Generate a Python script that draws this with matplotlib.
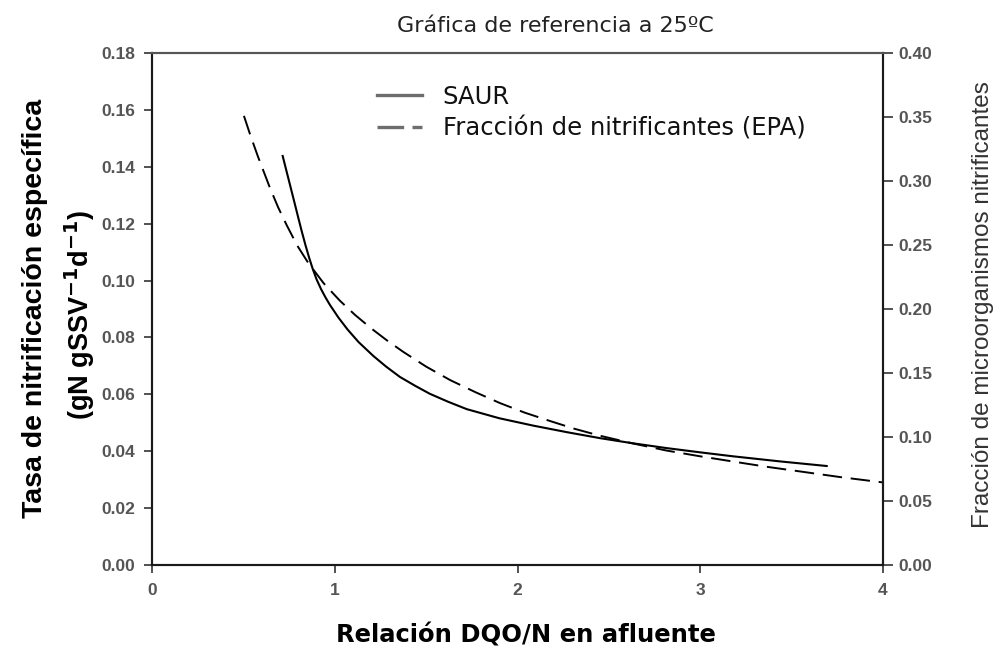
import matplotlib
matplotlib.use("Agg")
import matplotlib.pyplot as plt

# SAUR curve (left axis: specific nitrification rate)
saur_x = [0.715, 0.745, 0.773, 0.800, 0.819, 0.840, 0.860, 0.880, 0.900, 0.925, 0.950, 0.974,
          1.020, 1.070, 1.130, 1.211, 1.280, 1.357, 1.440, 1.520, 1.620, 1.722, 1.900, 2.086,
          2.270, 2.451, 2.630, 2.816, 3.000, 3.181, 3.440, 3.692]
saur_y = [0.1438, 0.1362, 0.1291, 0.1222, 0.1174, 0.1124, 0.1080, 0.1040, 0.1005, 0.0970,
          0.0940, 0.0914, 0.0870, 0.0828, 0.0784, 0.0735, 0.0698, 0.0661, 0.0630, 0.0602,
          0.0574, 0.0548, 0.0516, 0.0490, 0.0467, 0.0446, 0.0428, 0.0411, 0.0396, 0.0382,
          0.0364, 0.0348]

# EPA nitrifier fraction (right axis)
epa_x = [0.503, 0.540, 0.580, 0.646, 0.690, 0.737, 0.795, 0.855, 0.940, 1.028, 1.110, 1.200,
         1.290, 1.375, 1.500, 1.631, 1.770, 1.904, 2.040, 2.178, 2.310, 2.451, 2.630, 2.816,
         3.000, 3.181, 3.360, 3.546, 3.770, 4.000]
epa_y = [0.3509, 0.3350, 0.3190, 0.2944, 0.2795, 0.2655, 0.2495, 0.2360, 0.2200, 0.2065,
         0.1955, 0.1848, 0.1750, 0.1665, 0.1550, 0.1445, 0.1350, 0.1265, 0.1190, 0.1125,
         0.1065, 0.1010, 0.0950, 0.0894, 0.0849, 0.0808, 0.0768, 0.0731, 0.0686, 0.0645]

x_ticks = [0, 1, 2, 3, 4]
left_ticks = [0.00, 0.02, 0.04, 0.06, 0.08, 0.10, 0.12, 0.14, 0.16, 0.18]
right_ticks = [0.00, 0.05, 0.10, 0.15, 0.20, 0.25, 0.30, 0.35, 0.40]

W, H = 995, 655
fig = plt.figure(figsize=(W / 100, H / 100), dpi=100)
L, R, T, B = 152, 883, 53, 565
ax = fig.add_axes([L / W, 1 - B / H, (R - L) / W, (B - T) / H])
ax2 = ax.twinx()

l1, = ax.plot(saur_x, saur_y, color="black", lw=1.5)
l2, = ax2.plot(epa_x, epa_y, color="black", lw=1.4, dashes=(10, 4.5))

ax.set_xlim(0, 4)
ax.set_ylim(0, 0.18)
ax2.set_ylim(0, 0.40)

tick_font = dict(family="Liberation Sans", weight="bold", size=12.5)
ax.set_xticks(x_ticks)
ax.set_xticklabels([str(t) for t in x_ticks], color="#555555", **tick_font)
ax.set_yticks(left_ticks)
ax.set_yticklabels([f"{t:.2f}" for t in left_ticks], color="#555555", **tick_font)
ax2.set_yticks(right_ticks)
ax2.set_yticklabels([f"{t:.2f}" for t in right_ticks], color="#555555", **tick_font)

ax.tick_params(axis="x", direction="out", length=6, width=1.2, colors="#333333", pad=7)
ax.tick_params(axis="y", direction="out", length=6, width=1.2, colors="#333333", pad=6)
ax2.tick_params(axis="y", direction="out", length=7, width=1.2, colors="#333333", pad=4)
for lab in ax.get_xticklabels() + ax.get_yticklabels() + ax2.get_yticklabels():
    lab.set_color("#555555")

for a in (ax, ax2):
    for s in a.spines.values():
        s.set_linewidth(1.5)
        s.set_color("#1a1a1a")
ax.spines["top"].set_color("#555555")
ax2.spines["top"].set_color("#555555")

# axis titles
fig.text(526 / W, 1 - 643 / H, "Relación DQO/N en afluente", ha="center", va="baseline",
         family="DejaVu Sans", weight="bold", size=17.5, color="black")
fig.text(35 / W, 1 - 308 / H, "Tasa de nitrificación específica", rotation=90,
         ha="center", va="center", family="Liberation Sans", weight="bold", size=20.5,
         color="black")
fig.text(80 / W, 1 - 315 / H, "(gN gSSV$^{\\mathbf{-1}}$d$^{\\mathbf{-1}}$)", rotation=90,
         ha="center", va="center", family="Liberation Sans", weight="bold", size=19.5,
         color="black")
fig.text(983 / W, 1 - 305 / H, "Fracción de microorganismos nitrificantes", rotation=90,
         ha="center", va="center", family="Liberation Sans", size=17.5, color="#333333")

fig.text(555 / W, 1 - 32 / H, "Gráfica de referencia a 25ºC", ha="center", va="baseline",
         family="DejaVu Sans", size=16, color="#222222")

leg = ax.legend([l1, l2], ["SAUR", "Fracción de nitrificantes (EPA)"],
                loc="upper left", bbox_to_anchor=((377 - L) / (R - L), (B - 85) / (B - T)),
                frameon=False, borderaxespad=0, borderpad=0,
                prop=dict(family="DejaVu Sans", size=17.5), handlelength=1.85,
                handletextpad=0.85, labelspacing=0.3)
hs = leg.legend_handles
for h in hs:
    h.set_color("#6e6e6e")
    h.set_linewidth(2.4)
hs[1].set_dashes((8, 2.5))
for t in leg.get_texts():
    t.set_color("#111111")

fig.savefig("out.png", dpi=100)
